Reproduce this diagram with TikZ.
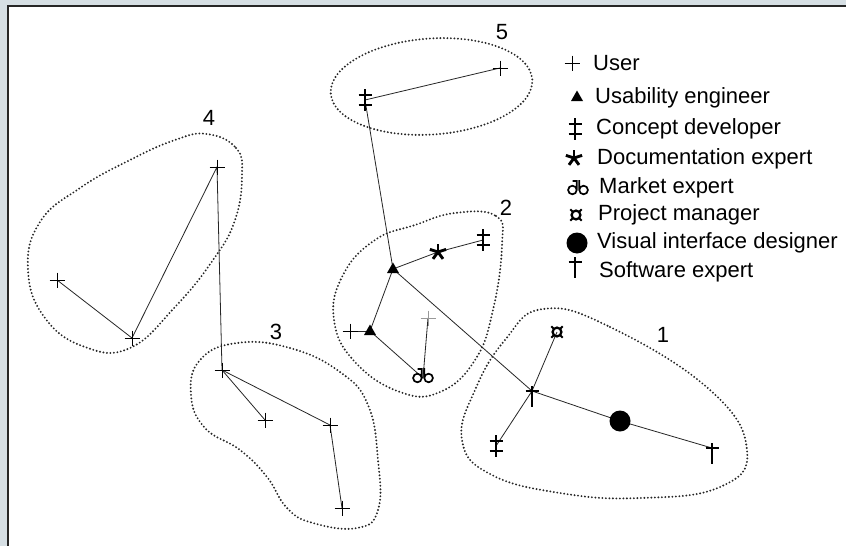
\documentclass[tikz,border=0pt]{standalone}
\usepackage{fontspec}
\setmainfont{Liberation Sans}
\definecolor{bgc}{RGB}{214,223,228}
\begin{document}
\begin{tikzpicture}[x=1pt,y=-1pt,
  conn/.style={line width=0.8pt, draw=black!85},
  outline/.style={line width=2.1pt, dash pattern=on 0pt off 3.5pt, line cap=round, draw=black!85},
  lbl/.style={font=\fontsize{22}{22}\selectfont, inner sep=0pt},
  leg/.style={anchor=west, font=\fontsize{22}{22}\selectfont, inner sep=0pt},
  user/.pic={\draw[line width=0.75pt] (-7.5,0)--(7.5,0) (0,-7.5)--(0,7.5);},
  guser/.pic={\draw[line width=0.75pt, black!40] (-7.5,0)--(7.5,0) (0,-7.5)--(0,7.5);},
  ueng/.pic={\fill (0,-6.5)--(6,4)--(-6,4)--cycle;},
  cdev/.pic={\draw[line width=1.9pt] (0,-11)--(0,11) (-6.5,-5)--(6.5,-5) (-6.5,5)--(6.5,5);},
  sexp/.pic={\draw[line width=1.9pt] (0,-5)--(0,16) (-6.5,0)--(6.5,0);},
  dexp/.pic={\foreach \a in {-90,-18,54,126,198} \draw[line width=2.9pt] (0,0)--(\a:8.5);},
  pman/.pic={\draw[line width=2.3pt] (0,0) circle (4.4);
             \foreach \a in {45,135,225,315} \draw[line width=2pt] (\a:4.4)--(\a:8);},
  vdes/.pic={\fill (0,0) circle (10.5);},
  mexp/.pic={\draw[line width=1.7pt] (-5.6,0) circle (4.3) (5.6,0) circle (4.3)
             (-1.3,0)--(-1.3,-10) (1.3,0)--(1.3,-10) (-1.3,-9)--(-5.5,-9);}
]
\useasboundingbox (0,0) rectangle (846,546);
\fill[bgc] (0,0) rectangle (846,546);
\fill[white] (8,6) rectangle (846,546);
\draw[line width=2pt, black!85] (8,546)--(8,6)--(846,6);

% cluster outlines
\begin{scope}[shift={(431.5,86.5)}, rotate=4]
  \draw[outline] (0,0) ellipse [x radius=101, y radius=48];
\end{scope}
\draw[outline] plot[smooth cycle, tension=0.75] coordinates {(455,213) (496,216) (502,245) (493,310) (475,360) (440,392) (400,392) (355,362) (334,320) (343,275) (375,240) (415,225)};
\draw[outline] plot[smooth cycle, tension=0.75] coordinates {(543,309) (610,327) (710,390) (747,450) (720,487) (640,498) (560,493) (490,474) (462,440) (475,390) (505,340)};
\draw[outline] plot[smooth cycle, tension=0.75] coordinates {(207,134) (236,148) (242,175) (235,220) (213,260) (175,307) (130,348) (85,347) (45,318) (28,270) (40,222) (80,188) (130,160) (175,140)};
\draw[outline] plot[smooth cycle, tension=0.75] coordinates {(237,343) (290,348) (340,372) (368,405) (378,460) (378,510) (357,528) (313,523) (287,508) (267,477) (240,450) (205,428) (191,395) (200,360)};

% cluster labels
\node[lbl] (n5) at (502,32) {5};
\node[lbl] (n4) at (209,118) {4};
\node[lbl] (n2) at (506,208) {2};
\node[lbl] (n3) at (276,332) {3};
\node[lbl] (n1) at (663,335) {1};

% members
\coordinate (c5) at (365,100);
\coordinate (u5) at (500,68);
\coordinate (ue2) at (393,269);
\coordinate (de2) at (438,252);
\coordinate (cd2) at (483,240);
\coordinate (ub2) at (370,331);
\coordinate (us2) at (350,331);
\coordinate (ug2) at (428,318);
\coordinate (me2) at (423,378);
\coordinate (se1) at (532,391);
\coordinate (pm1) at (557,332);
\coordinate (cd1) at (496,446);
\coordinate (vd1) at (620,421);
\coordinate (se1b) at (712,448);
\coordinate (u4a) at (57,280);
\coordinate (u4b) at (132,338);
\coordinate (u4c) at (217,167);
\coordinate (u3a) at (222,370);
\coordinate (u3b) at (265,420);
\coordinate (u3c) at (330,425);
\coordinate (u3d) at (342,508);

% connectors
\draw[conn] (c5)--(u5);
\draw[conn] (c5)--(ue2);
\draw[conn] (ue2)--(de2)--(cd2);
\draw[conn] (ue2)--(ub2);
\draw[conn] (us2)--(ub2);
\draw[conn] (ub2)--(me2);
\draw[conn] (me2)--(ug2);
\draw[conn] (ue2)--(se1);
\draw[conn] (se1)--(pm1);
\draw[conn] (se1)--(cd1);
\draw[conn] (se1)--(vd1)--(se1b);
\draw[conn] (u4a)--(u4b)--(u4c)--(u3a);
\draw[conn] (u3a)--(u3b);
\draw[conn] (u3a)--(u3c)--(u3d);

% symbols
\pic at (c5) {cdev};
\pic at (u5) {user};
\pic at (ue2) {ueng};
\pic at (de2) {dexp};
\pic at (cd2) {cdev};
\pic at (ub2) {ueng};
\pic at (us2) {user};
\pic at (ug2) {guser};
\pic at (me2) {mexp};
\pic at (se1) {sexp};
\pic at (pm1) {pman};
\pic at (cd1) {cdev};
\pic at (vd1) {vdes};
\pic at (se1b) {sexp};
\pic at (u4a) {user};
\pic at (u4b) {user};
\pic at (u4c) {user};
\pic at (u3a) {user};
\pic at (u3b) {user};
\pic at (u3c) {user};
\pic at (u3d) {user};

% legend
\coordinate (l1) at (572,63);
\coordinate (l2) at (577,97);
\coordinate (l3) at (575,129);
\coordinate (l4) at (574,158);
\coordinate (l5) at (578,190);
\coordinate (l6) at (576,215);
\coordinate (l7) at (577,243);
\coordinate (l8) at (575,262);
\pic at (l1) {user};
\pic at (l2) {ueng};
\pic at (l3) {cdev};
\pic at (l4) {dexp};
\pic at (l5) {mexp};
\pic at (l6) {pman};
\pic at (l7) {vdes};
\pic at (l8) {sexp};
\node[leg] (t1) at (593,63) {User};
\node[leg] (t2) at (595,98) {Usability engineer};
\node[leg] (t3) at (596,129) {Concept developer};
\node[leg] (t4) at (597,159) {Documentation expert};
\node[leg] (t5) at (599,188) {Market expert};
\node[leg] (t6) at (598,215) {Project manager};
\node[leg] (t7) at (597,243) {Visual interface designer};
\node[leg] (t8) at (599,272) {Software expert};
\end{tikzpicture}
\end{document}
